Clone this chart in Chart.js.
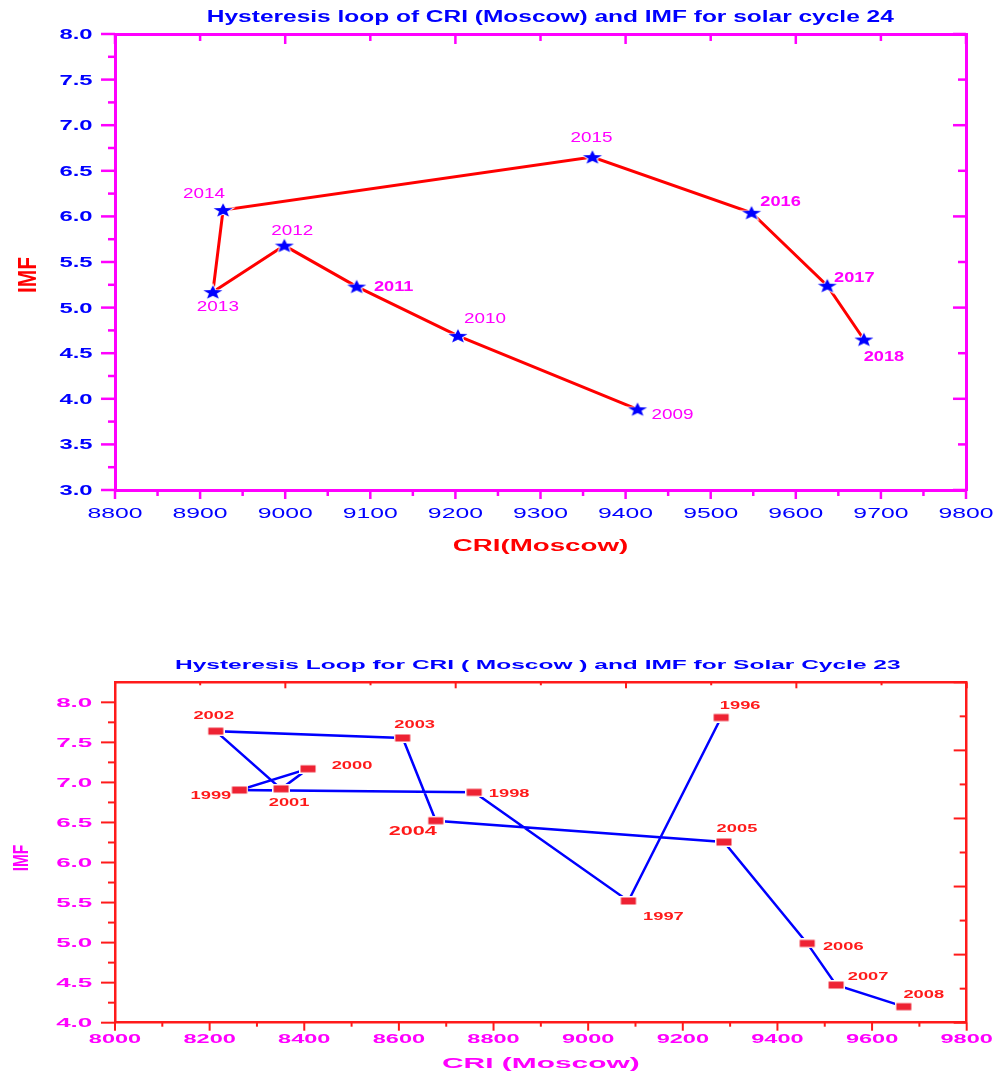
<!DOCTYPE html>
<html>
<head>
<meta charset="utf-8">
<title>Hysteresis loops CRI / IMF</title>
<script src="https://cdn.jsdelivr.net/npm/chart.js@4.4.1/dist/chart.umd.min.js"></script>
<style>
	body { margin: 0; background: #fff; width: 997px; height: 1074px; overflow: hidden; position: relative; }
	canvas { position: absolute; left: 0; }
	#c24 { top: 0; }
	#c23 { top: 600px; }
</style>
</head>
<body>
<canvas id="c24" width="997" height="600"></canvas>
<canvas id="c23" width="997" height="474"></canvas>
<script>
// solar cycle 24
const years24 = ['2009', '2010', '2011', '2012', '2013', '2014', '2015', '2016', '2017', '2018'];
const cri24 = [9414, 9203, 9084, 8999, 8915, 8927, 9361, 9548, 9637, 9680];
const imf24 = [3.885, 4.69, 5.23, 5.68, 5.17, 6.07, 6.65, 6.04, 5.24, 4.65];
const xTicks24 = [8800, 8900, 9000, 9100, 9200, 9300, 9400, 9500, 9600, 9700, 9800];
const yTicks24 = [3.0, 3.5, 4.0, 4.5, 5.0, 5.5, 6.0, 6.5, 7.0, 7.5, 8.0];

// solar cycle 23
const years23 = ['1996', '1997', '1998', '1999', '2000', '2001', '2002', '2003', '2004', '2005', '2006', '2007', '2008'];
const cri23 = [9281, 9085, 8759, 8263, 8408, 8351, 8213, 8608, 8678, 9287, 9463, 9524, 9667];
const imf23 = [7.81, 5.52, 6.876, 6.905, 7.17, 6.92, 7.64, 7.555, 6.522, 6.256, 4.99, 4.47, 4.20];
const xTicks23 = [8000, 8200, 8400, 8600, 8800, 9000, 9200, 9400, 9600, 9800];
const yTicks23 = [4.0, 4.5, 5.0, 5.5, 6.0, 6.5, 7.0, 7.5, 8.0];

// unlabeled top / right axes of the Origin plots
const sideTicks = [0, 1, 2, 3, 4, 5, 6, 7, 8, 9, 10];

// where the year labels sit next to their marker (px)
const offsets24 = [[35, 5], [27, -18], [37, -1], [8, -16], [5, 14], [-19, -17.5], [-1, -20], [29, -12], [27, -9], [20, 16]];
const bold24 = ['2011', '2016', '2017', '2018'];
const offsets23 = [[19, -12], [35, 15], [35, 1], [-28.5, 5.5], [44, -3], [8, 14], [-2, -16], [12, -14], [-23, 10], [13, -14], [36, 3], [32, -9], [20, -12]];

const FONT = '"Liberation Sans", Arial, sans-serif';

window.addEventListener('load', setup);

function txt(ctx, s, x, y, size, bold, color, sx, align, rot) {
	ctx.save();
	ctx.font = (bold ? 'bold ' : '') + size + 'px ' + FONT;
	ctx.fillStyle = color;
	ctx.textAlign = align || 'center';
	ctx.textBaseline = 'alphabetic';
	ctx.translate(x, y);
	ctx.scale(sx, 1);
	if (rot) ctx.rotate(rot);
	ctx.fillText(s, 0, size * 0.358);
	ctx.restore();
}

function mids(arr) {
	const out = [];
	for (let i = 1; i < arr.length; i++) out.push((arr[i - 1] + arr[i]) / 2);
	return out;
}

function line(ctx, x1, y1, x2, y2) {
	ctx.beginPath();
	ctx.moveTo(x1, y1);
	ctx.lineTo(x2, y2);
	ctx.stroke();
}

function makeStar(color) {
	const c = document.createElement('canvas');
	c.width = 26; c.height = 18;
	const g = c.getContext('2d');
	g.translate(13, 9.6);
	g.scale(1.35, 1);
	g.beginPath();
	for (let i = 0; i < 10; i++) {
		const r = i % 2 ? 3.1 : 7.4;
		const a = -Math.PI / 2 + i * Math.PI / 5;
		g.lineTo(r * Math.cos(a), r * Math.sin(a));
	}
	g.closePath();
	g.lineWidth = 1.6;
	g.strokeStyle = '#ffffff';
	g.stroke();
	g.fillStyle = color;
	g.fill();
	return c;
}

function makeRect(color) {
	const c = document.createElement('canvas');
	c.width = 18; c.height = 10;
	const g = c.getContext('2d');
	g.fillStyle = '#ffffff';
	g.fillRect(0, 0, 18, 10);
	g.fillStyle = color;
	g.fillRect(1.5, 1.5, 15, 7);
	return c;
}

function axis(pos, min, max, color, bw, size, tickArr) {
	return {
		type: 'linear',
		position: pos,
		min: min,
		max: max,
		afterBuildTicks: s => { s.ticks = tickArr.map(v => ({ value: v })); },
		afterFit: s => {
			if (pos === 'left' || pos === 'right') s.width = size;
			else s.height = size;
		},
		ticks: { display: false },
		grid: { display: false, drawTicks: false },
		border: { display: true, color: color, width: bw }
	};
}

// tick marks, tick labels, titles and year labels
function makeLook(cfg) {
	return {
		id: 'look',
		beforeDatasetsDraw(chart) {
			const ctx = chart.ctx, a = chart.chartArea;
			ctx.save();
			ctx.strokeStyle = cfg.axisColor;
			ctx.lineWidth = cfg.tickWidth;
			cfg.marks.forEach(m => {
				const s = chart.scales[m.id];
				const one = (v, len) => {
					const p = s.getPixelForValue(v);
					if (m.side === 'bottom') line(ctx, p, a.bottom, p, a.bottom + len);
					if (m.side === 'top') line(ctx, p, a.top, p, a.top + len);
					if (m.side === 'left') line(ctx, a.left - len, p, a.left, p);
					if (m.side === 'right') line(ctx, a.right - len, p, a.right, p);
				};
				m.major.forEach(v => one(v, m.majorLen));
				m.minor.forEach(v => one(v, m.minorLen));
			});
			ctx.restore();
		},
		afterDraw(chart) {
			const ctx = chart.ctx;
			const xs = chart.scales.x, ys = chart.scales.y;
			const xl = cfg.xLabels, yl = cfg.yLabels;
			xl.values.forEach(v => {
				txt(ctx, String(v), xs.getPixelForValue(v), xl.y, xl.size, xl.bold, xl.color, xl.sx);
			});
			yl.values.forEach(v => {
				txt(ctx, v.toFixed(1), yl.x, ys.getPixelForValue(v), yl.size, yl.bold, yl.color, yl.sx, 'right');
			});
			cfg.texts.forEach(t => txt(ctx, t.s, t.x, t.y, t.size, true, t.color, t.sx, 'center', t.rot));
			const meta = chart.getDatasetMeta(0);
			cfg.years.forEach((yr, i) => {
				const p = meta.data[i];
				const st = cfg.yearStyle(yr);
				txt(ctx, yr, p.x + cfg.offsets[i][0], p.y + cfg.offsets[i][1], st.size, st.bold, cfg.yearColor, st.sx);
			});
		}
	};
}

function setup() {
	Chart.defaults.font.family = FONT;

	// ---- solar cycle 24 ----
	const mag = '#ff00ff';
	const look24 = makeLook({
		axisColor: mag,
		tickWidth: 2.5,
		marks: [
			{ id: 'x', side: 'bottom', major: xTicks24, minor: mids(xTicks24), majorLen: 9, minorLen: 6 },
			{ id: 'y', side: 'left', major: yTicks24, minor: mids(yTicks24), majorLen: 14, minorLen: 7 },
			{ id: 'x2', side: 'top', major: sideTicks.filter(v => v % 2 === 0), minor: sideTicks.filter(v => v % 2), majorLen: 10, minorLen: 7 },
			{ id: 'y2', side: 'right', major: sideTicks.filter(v => v % 2 === 0), minor: sideTicks.filter(v => v % 2), majorLen: 13, minorLen: 8 }
		],
		xLabels: { values: xTicks24, y: 512.8, size: 15, bold: false, color: '#0000ff', sx: 1.65 },
		yLabels: { values: yTicks24, x: 92.5, size: 14, bold: true, color: '#0000ff', sx: 1.7 },
		texts: [
			{ s: 'Hysteresis loop of CRI (Moscow) and IMF for solar cycle 24', x: 550.3, y: 16, size: 16, color: '#0000ff', sx: 1.53 },
			{ s: 'IMF', x: 27, y: 275, size: 21, color: '#ff0000', sx: 1.25, rot: -Math.PI / 2 },
			{ s: 'CRI(Moscow)', x: 540.5, y: 545, size: 16, color: '#ff0000', sx: 1.73 }
		],
		years: years24,
		offsets: offsets24,
		yearColor: mag,
		yearStyle: yr => bold24.includes(yr) ? { size: 14, bold: true, sx: 1.3 } : { size: 14, bold: false, sx: 1.35 }
	});

	new Chart(document.getElementById('c24').getContext('2d'), {
		type: 'scatter',
		data: {
			datasets: [{
				label: 'Solar cycle 24',
				data: cri24.map((x, i) => ({ x: x, y: imf24[i] })),
				showLine: true,
				borderColor: '#ff0000',
				borderWidth: 3,
				pointStyle: makeStar('#0000ff'),
				pointRadius: 8
			}]
		},
		options: {
			responsive: false,
			animation: false,
			devicePixelRatio: 1,
			layout: { padding: { left: 0, right: 31, top: 34, bottom: 50 } },
			plugins: { legend: { display: false }, tooltip: { enabled: false }, title: { display: false } },
			scales: {
				x: axis('bottom', 8800, 9800, mag, 3, 60, xTicks24),
				y: axis('left', 3, 8, mag, 3, 115, yTicks24),
				x2: axis('top', 0, 10, mag, 3, 0, sideTicks),
				y2: axis('right', 0, 10, mag, 3, 0, sideTicks)
			}
		},
		plugins: [look24]
	});

	// ---- solar cycle 23 ----
	const red = '#ff1a1a';
	const look23 = makeLook({
		axisColor: red,
		tickWidth: 2,
		marks: [
			{ id: 'x', side: 'bottom', major: xTicks23, minor: mids(xTicks23), majorLen: 8, minorLen: 4 },
			{ id: 'y', side: 'left', major: yTicks23, minor: mids(yTicks23), majorLen: 14, minorLen: 7 },
			{ id: 'x2', side: 'top', major: sideTicks.filter(v => v % 2 === 0), minor: sideTicks.filter(v => v % 2), majorLen: 6, minorLen: 3 },
			{ id: 'y2', side: 'right', major: sideTicks.filter(v => v % 2 === 0), minor: sideTicks.filter(v => v % 2), majorLen: 13, minorLen: 7 }
		],
		xLabels: { values: xTicks23, y: 438.3, size: 12, bold: true, color: mag, sx: 1.96 },
		yLabels: { values: yTicks23, x: 92.3, size: 13, bold: true, color: mag, sx: 2.0 },
		texts: [
			{ s: 'Hysteresis Loop for CRI ( Moscow ) and IMF for Solar Cycle 23', x: 537.8, y: 64.5, size: 12.5, color: '#0000ff', sx: 1.96 },
			{ s: 'IMF', x: 20, y: 258, size: 15.5, color: mag, sx: 1.45, rot: -Math.PI / 2 },
			{ s: 'CRI (Moscow)', x: 540.8, y: 462.8, size: 15.5, color: mag, sx: 1.93 }
		],
		years: years23,
		offsets: offsets23,
		yearColor: red,
		yearStyle: yr => yr === '2004' ? { size: 12.5, bold: true, sx: 1.73 } : { size: 10, bold: true, sx: 1.83 }
	});

	new Chart(document.getElementById('c23').getContext('2d'), {
		type: 'scatter',
		data: {
			datasets: [{
				label: 'Solar cycle 23',
				data: cri23.map((x, i) => ({ x: x, y: imf23[i] })),
				showLine: true,
				borderColor: '#0000ff',
				borderWidth: 2.5,
				pointStyle: makeRect('#ee2233'),
				pointRadius: 8
			}]
		},
		options: {
			responsive: false,
			animation: false,
			devicePixelRatio: 1,
			layout: { padding: { left: 0, right: 30.3, top: 82.3, bottom: 11.3 } },
			plugins: { legend: { display: false }, tooltip: { enabled: false }, title: { display: false } },
			scales: {
				x: axis('bottom', 8000, 9800, red, 2.5, 40, xTicks23),
				y: axis('left', 4, 8.25, red, 2.5, 115, yTicks23),
				x2: axis('top', 0, 10, red, 2.5, 0, sideTicks),
				y2: axis('right', 0, 10, red, 2.5, 0, sideTicks)
			}
		},
		plugins: [look23]
	});
}
</script>
</body>
</html>
